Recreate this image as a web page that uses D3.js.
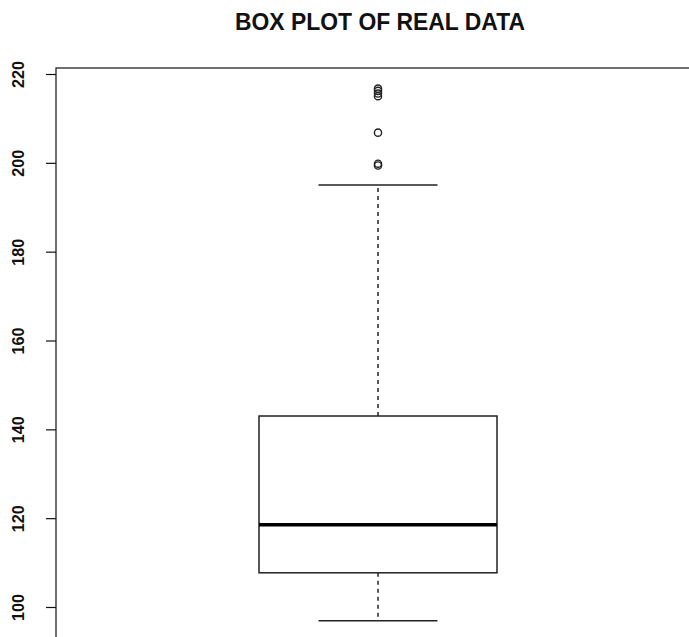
<!DOCTYPE html>
<html>
<head>
<meta charset="utf-8">
<script src="https://cdn.jsdelivr.net/npm/d3@7"></script>
<style>
  body { margin: 0; background: #fff; }
  svg { display: block; }
  text { font-family: "Liberation Sans", Arial, sans-serif; fill: #111; }
</style>
</head>
<body>
<div id="chart"></div>
<script>
// values
const title = "BOX PLOT OF REAL DATA";
const yTicks = [100, 120, 140, 160, 180, 200, 220];
const boxStats = { lower: 96.9, q1: 107.7, median: 118.5, q3: 143.0, upper: 195.0 };
const outliers = [199.4, 199.8, 206.8, 215.0, 215.6, 216.2, 216.7];

const width = 689, height = 637;
const margin = { top: 68, left: 56 };

const svg = d3.select("#chart").append("svg")
  .attr("width", width)
  .attr("height", height);

const yScale = d3.scaleLinear().domain([100, 220]).range([607, 74]);
const xScale = d3.scaleLinear().domain([0.5, 1.5]).range([229.25, 526.75]);

// plot frame (cut off on the right and bottom)
svg.append("rect")
  .attr("x", margin.left)
  .attr("y", margin.top)
  .attr("width", width + 20)
  .attr("height", height)
  .attr("fill", "none")
  .attr("stroke", "#111")
  .attr("stroke-width", 1.2);

// y axis
const yAxis = svg.append("g")
  .attr("class", "axis y")
  .attr("transform", `translate(${margin.left}, 0)`)
  .call(d3.axisLeft(yScale).tickValues(yTicks).tickSize(10).tickFormat(d3.format("d")));

yAxis.select(".domain").remove();
yAxis.selectAll("line").attr("stroke", "#111").attr("stroke-width", 1.2);
yAxis.selectAll("text")
  .attr("x", 0).attr("y", 0).attr("dy", null)
  .attr("text-anchor", "middle")
  .attr("transform", "translate(-37, 0) rotate(-90) translate(0, 5)")
  .attr("textLength", 27)
  .attr("lengthAdjust", "spacingAndGlyphs")
  .style("font-size", "16px")
  .style("font-weight", "bold")
  .style("fill", "#111");

// title
svg.append("text")
  .attr("x", 380)
  .attr("y", 30)
  .attr("text-anchor", "middle")
  .attr("textLength", 290)
  .attr("lengthAdjust", "spacingAndGlyphs")
  .style("font-size", "23px")
  .style("font-weight", "bold")
  .text(title);

const cx = xScale(1);
const g = svg.append("g").attr("class", "box");

// whiskers
g.selectAll(".whisker")
  .data([[boxStats.q3, boxStats.upper], [boxStats.q1, boxStats.lower]])
  .enter().append("line")
  .attr("class", "whisker")
  .attr("x1", cx).attr("x2", cx)
  .attr("y1", d => yScale(d[0]))
  .attr("y2", d => yScale(d[1]))
  .attr("stroke", "#111")
  .attr("stroke-width", 1.4)
  .attr("stroke-dasharray", "4,4");

// whisker caps
g.selectAll(".cap")
  .data([boxStats.upper, boxStats.lower])
  .enter().append("line")
  .attr("class", "cap")
  .attr("x1", xScale(0.8)).attr("x2", xScale(1.2))
  .attr("y1", d => yScale(d)).attr("y2", d => yScale(d))
  .attr("stroke", "#222")
  .attr("stroke-width", 1.5);

// box
g.append("rect")
  .attr("x", xScale(0.6))
  .attr("y", yScale(boxStats.q3))
  .attr("width", xScale(1.4) - xScale(0.6))
  .attr("height", yScale(boxStats.q1) - yScale(boxStats.q3))
  .attr("fill", "#fff")
  .attr("stroke", "#222")
  .attr("stroke-width", 1.5);

// median
g.append("line")
  .attr("x1", xScale(0.6)).attr("x2", xScale(1.4))
  .attr("y1", yScale(boxStats.median)).attr("y2", yScale(boxStats.median))
  .attr("stroke", "#000")
  .attr("stroke-width", 3.5);

// outliers
g.selectAll(".outlier")
  .data(outliers)
  .enter().append("circle")
  .attr("class", "outlier")
  .attr("cx", cx)
  .attr("cy", d => yScale(d))
  .attr("r", 3.6)
  .attr("fill", "none")
  .attr("stroke", "#222")
  .attr("stroke-width", 1.4);
</script>
</body>
</html>
